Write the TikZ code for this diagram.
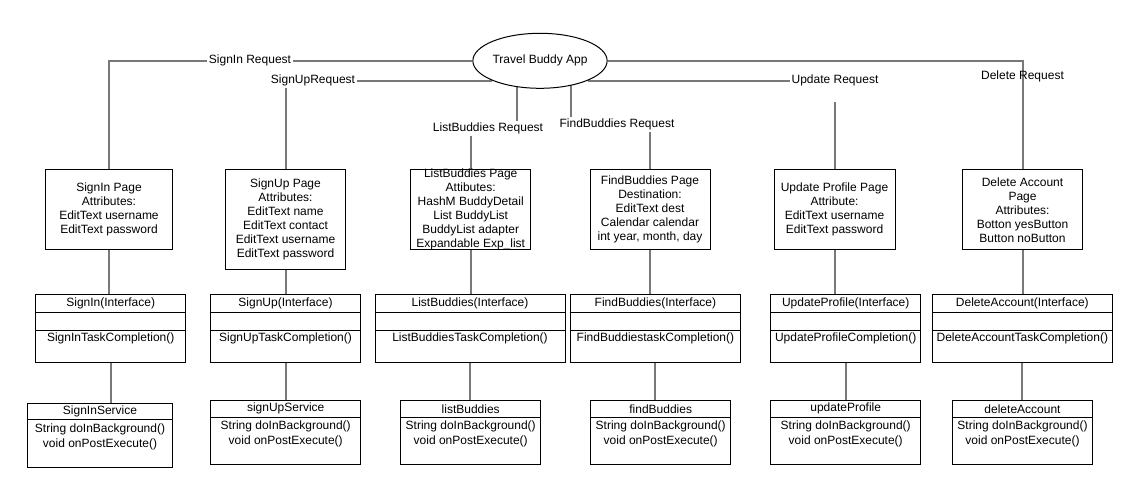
\documentclass[tikz,border=0pt]{standalone}
\usepackage{fontspec}
\setmainfont{Liberation Sans}
\usetikzlibrary{shapes.geometric,backgrounds}
\definecolor{conncol}{RGB}{120,120,120}
\newcommand{\ifacebox}[5]{%
  \node[bx=68pt, minimum width=#3] (#1) at (#2,294.3) {};
  \draw[line width=1pt] ([yshift=-18pt]#1.north west) -- ([yshift=-18pt]#1.north east);
  \draw[line width=1pt] ([yshift=-35.7pt]#1.north west) -- ([yshift=-35.7pt]#1.north east);
  \node[txt] (#1h) at ([yshift=-9pt]#1.north) {#4};
  \node[txt] (#1m) at ([yshift=-44pt]#1.north) {#5};
}
\newcommand{\svcbox}[6]{%
  \node[bx=64pt, minimum width=#3] (#1) at (#2,#4) {};
  \draw[line width=1pt] ([yshift=-#5pt]#1.north west) -- ([yshift=-#5pt]#1.north east);
  \node[txt] (#1h) at ([yshift=-8.5pt]#1.north) {#6};
  \node[txt] (#1a) at ([yshift=-26pt]#1.north) {String doInBackground()};
  \node[txt] (#1b) at ([yshift=-41pt]#1.north) {void onPostExecute()};
}
\begin{document}
\begin{tikzpicture}[x=1pt,y=-1pt,
  txt/.style={font=\fontsize{12}{14}\selectfont, inner sep=0pt, align=center},
  lbl/.style={font=\fontsize{12}{14}\selectfont, inner sep=2pt, fill=white},
  lblnf/.style={font=\fontsize{12}{14}\selectfont, inner sep=2pt},
  conn/.style={draw=conncol, line width=2pt},
  bx/.style={draw=black, line width=1pt, fill=white, anchor=north, inner sep=0pt, minimum height=#1},
]
\useasboundingbox (0,0) rectangle (1134,487);

% central ellipse
\node[draw=black, line width=1pt, fill=white, ellipse, minimum width=114.6pt, minimum height=55pt, inner sep=0pt,
      font=\fontsize{12}{14}\selectfont] (app) at (540,60.8) {Travel Buddy App};

% page boxes
\node[bx=80pt, minimum width=127.4pt] (sip) at (109,169.3) {};
\node[txt] (sipt) at (sip.center) {SignIn Page\\Attributes:\\EditText username\\EditText password};
\node[bx=100pt, minimum width=120.4pt] (sup) at (285.5,169.3) {};
\node[txt] (supt) at (sup.center) {SignUp Page\\Attributes:\\EditText name\\EditText contact\\EditText username\\EditText password};
\node[bx=80pt, minimum width=120pt] (lbp) at (470.7,169.3) {};
\node[txt] (lbpt) at (lbp.center) {ListBuddies Page\\Attibutes:\\HashM BuddyDetail\\List BuddyList\\BuddyList adapter\\Expandable Exp\_list};
\node[bx=80pt, minimum width=120pt] (fbp) at (650,169.3) {};
\node[txt] (fbpt) at (fbp.center) {FindBuddies Page\\Destination:\\EditText dest\\Calendar calendar\\int year, month, day};
\node[bx=80pt, minimum width=121pt] (upp) at (834.5,169.3) {};
\node[txt] (uppt) at (upp.center) {Update Profile Page\\Attribute:\\EditText username\\EditText password};
\node[bx=80pt, minimum width=120.4pt] (dap) at (1022.5,169.3) {};
\node[txt] (dapt) at (dap.center) {Delete Account\\Page\\Attributes:\\Botton yesButton\\Button noButton};

% interface boxes
\ifacebox{sii}{110.7}{150pt}{SignIn(Interface)}{SignInTaskCompletion()}
\ifacebox{sui}{285.5}{150.4pt}{SignUp(Interface)}{SignUpTaskCompletion()}
\ifacebox{lbi}{470}{190pt}{ListBuddies(Interface)}{ListBuddiesTaskCompletion()}
\ifacebox{fbi}{655.4}{170.7pt}{FindBuddies(Interface)}{FindBuddiestaskCompletion()}
\ifacebox{upi}{845.7}{150pt}{UpdateProfile(Interface)}{UpdateProfileCompletion()}
\ifacebox{dai}{1022.3}{180pt}{DeleteAccount(Interface)}{DeleteAccountTaskCompletion()}

% service boxes
\svcbox{sis}{100}{145.3pt}{403.3}{16}{SignInService}
\svcbox{sus}{285.7}{150pt}{400.3}{17}{signUpService}
\svcbox{lbs}{470.7}{140pt}{400.3}{17}{listBuddies}
\svcbox{fbs}{660.7}{140pt}{400.3}{17}{findBuddies}
\svcbox{ups}{845.7}{150pt}{400.3}{17}{updateProfile}
\svcbox{das}{1022.5}{139.6pt}{400.3}{17}{deleteAccount}

% bend coordinates
\coordinate (lbb) at (517,128.5);
\coordinate (fbb) at (571,125);
\coordinate (upv) at (834.5,102);

\begin{scope}[on background layer]
\fill[white] (0,0) rectangle (1134,487);
% top connectors
\draw[conn] (app.west) -| (sip.north);
\draw[conn] (app.south west) -| (sup.north);
\draw[conn] (app.center -| lbb) -- (lbb) -| (lbp.north);
\draw[conn] (app.center -| fbb) -- (fbb) -| (fbp.north);
\draw[conn] (app.south east) -- (upp.north |- app.south east);
\draw[conn] (upv) -- (upp.north);
\draw[conn] (app.east) -| (dap.north);
% page to interface
\foreach \p/\i in {sip/sii, sup/sui, lbp/lbi, fbp/fbi, upp/upi, dap/dai}
  \draw[conn] (\p.south) -- (\p.south |- \i.north);
% interface to service
\foreach \i/\s in {sii/sis, sui/sus, lbi/lbs, fbi/fbs, upi/ups, dai/das}
  \draw[conn] (\i.south) -- (\i.south |- \s.north);
\end{scope}

% connector labels
\node[lbl] (l1) at (250,60.5) {SignIn Request};
\node[lbl] (l2) at (313,80.2) {SignUpRequest};
\node[lbl] (l3) at (488,128.5) {ListBuddies Request};
\node[lbl] (l4) at (617,124.8) {FindBuddies Request};
\node[lbl] (l5) at (835,80.7) {Update Request};
\node[lblnf] (l6) at (1022.5,76.7) {Delete Request};
\end{tikzpicture}
\end{document}
